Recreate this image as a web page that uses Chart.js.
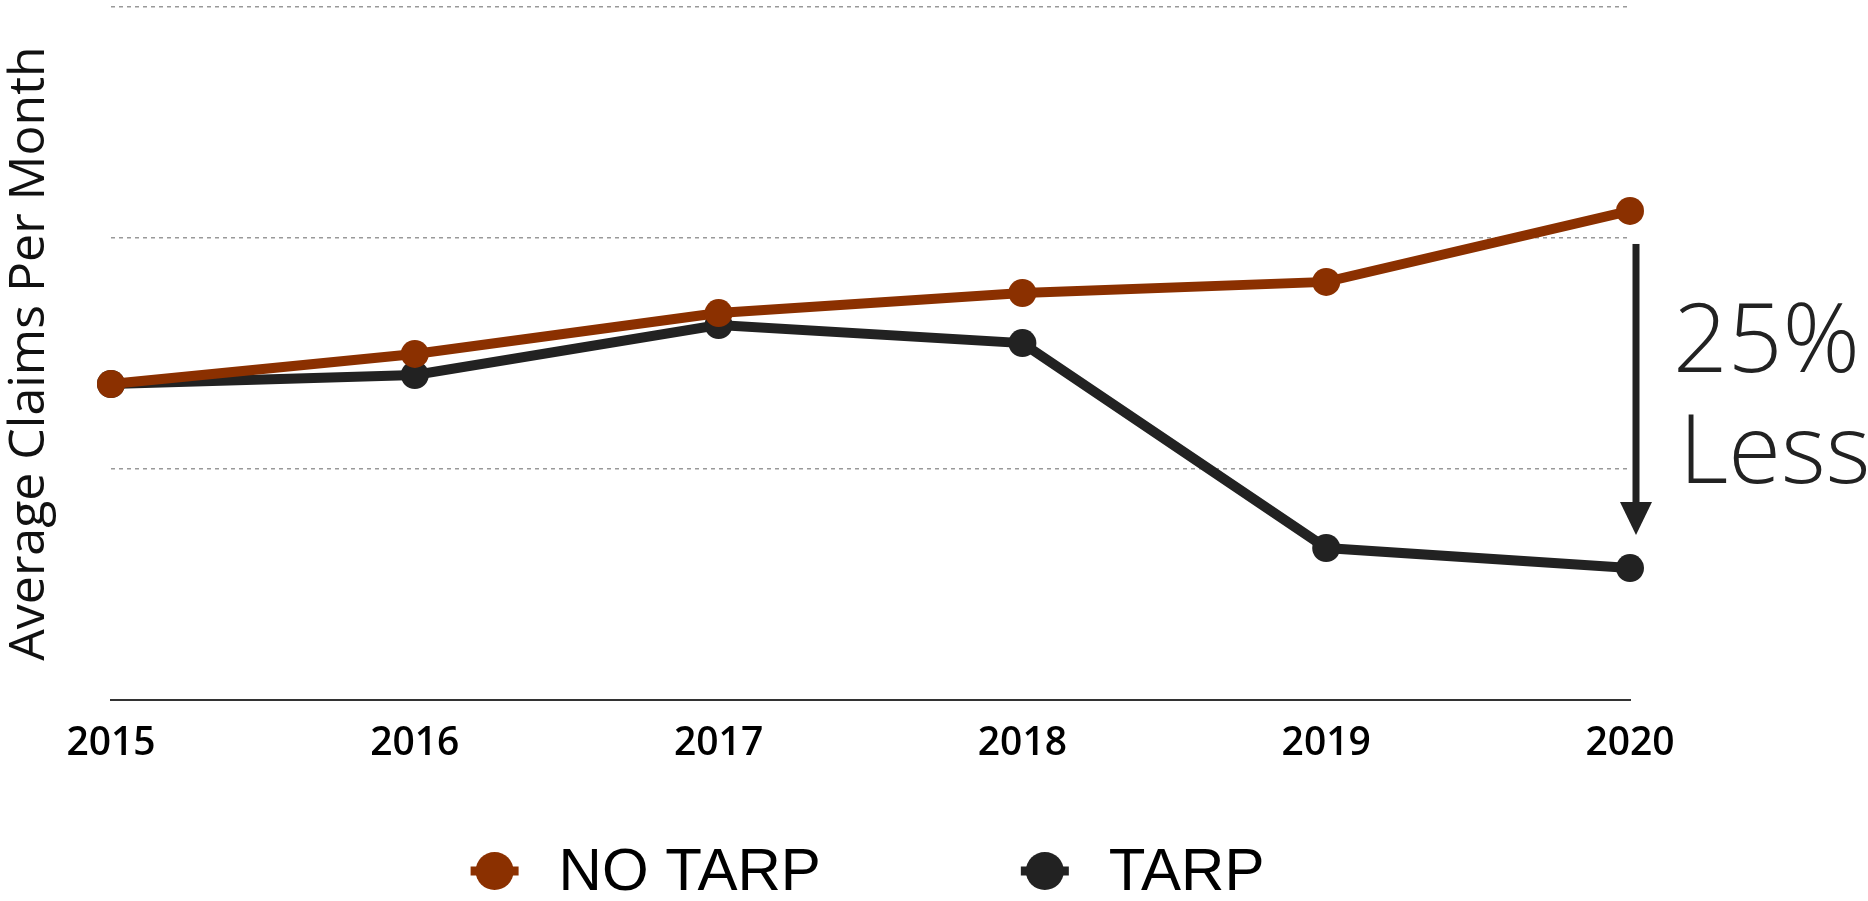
<!DOCTYPE html>
<html>
<head>
<meta charset="utf-8">
<script src="https://cdn.jsdelivr.net/npm/chart.js@4"></script>
<style>
  body { margin: 0; background: #fff; }
  #wrap { width: 1868px; height: 901px; position: relative; }
</style>
</head>
<body>
<div id="wrap"><canvas id="claimsChart"></canvas></div>
<script>
const years = ["2015", "2016", "2017", "2018", "2019", "2020"];
const noTarp = [1.368, 1.498, 1.675, 1.762, 1.810, 2.117];
const tarp = [1.368, 1.407, 1.623, 1.545, 0.658, 0.571];
const changeText = ["25%", "Less"];

const brown = "#8b3000";
const dark = "#222222";

// legend with a line + dot marker, drawn under the chart area
const lineLegend = {
  id: "lineLegend",
  afterDraw(chart) {
    const { ctx, chartArea } = chart;
    const items = chart.data.datasets;
    const box = 68, gap = 190;
    ctx.save();
    ctx.font = "60px 'Liberation Sans', Arial, sans-serif";
    const widths = items.map(ds => box + 30 + ctx.measureText(ds.label).width);
    const total = widths.reduce((a, b) => a + b, 0) + gap * (items.length - 1);
    let x = (chartArea.left + chartArea.right) / 2 - total / 2 - 8;
    const y = 871;
    items.forEach((ds, i) => {
      const cx = x + box / 2;
      ctx.fillStyle = ds.borderColor;
      ctx.fillRect(cx - 24, y - 4.5, 48, 9);
      ctx.beginPath();
      ctx.arc(cx, y, 19, 0, Math.PI * 2);
      ctx.fill();
      ctx.fillStyle = "#000";
      ctx.textBaseline = "middle";
      ctx.textAlign = "left";
      ctx.fillText(ds.label, x + box + 30, y + 2);
      x += widths[i] + gap;
    });
    ctx.restore();
  }
};

// arrow + "25% Less" next to the last year
const changeNote = {
  id: "changeNote",
  afterDatasetsDraw(chart) {
    const { ctx, scales } = chart;
    const last = years.length - 1;
    const x = scales.x.getPixelForValue(last) + 6;
    const yTop = scales.y.getPixelForValue(noTarp[last]) + 33;
    const yTip = scales.y.getPixelForValue(tarp[last]) - 33;
    ctx.save();
    ctx.fillStyle = dark;
    ctx.fillRect(x - 3.5, yTop, 7, yTip - yTop - 30);
    ctx.beginPath();
    ctx.moveTo(x - 16, yTip - 33);
    ctx.lineTo(x + 16, yTip - 33);
    ctx.lineTo(x, yTip);
    ctx.closePath();
    ctx.fill();

    ctx.font = "300 96px 'Open Sans', sans-serif";
    ctx.textAlign = "left";
    ctx.textBaseline = "alphabetic";
    const mid = (yTop + yTip) / 2;
    ctx.fillText(changeText[0], x + 37, mid - 18);
    ctx.fillText(changeText[1], x + 43, mid + 93);
    ctx.restore();
  }
};

new Chart(document.getElementById("claimsChart"), {
  type: "line",
  data: {
    labels: years,
    datasets: [
      {
        label: "NO TARP",
        data: noTarp,
        borderColor: brown,
        backgroundColor: brown,
        borderWidth: 10,
        pointRadius: 14,
        pointHoverRadius: 14,
        pointBorderWidth: 0,
        tension: 0,
      },
      {
        label: "TARP",
        data: tarp,
        borderColor: dark,
        backgroundColor: dark,
        borderWidth: 10,
        pointRadius: 14,
        pointHoverRadius: 14,
        pointBorderWidth: 0,
        tension: 0,
      }
    ]
  },
  options: {
    responsive: true,
    maintainAspectRatio: false,
    animation: false,
    layout: {
      autoPadding: false,
      padding: { top: 7, left: 0, right: 238, bottom: 134 }
    },
    plugins: {
      legend: { display: false },
      tooltip: { enabled: false },
    },
    scales: {
      x: {
        grid: { display: false, drawTicks: false },
        border: { display: true, color: "#333", width: 2 },
        ticks: {
          color: "#000",
          padding: 20,
          maxRotation: 0,
          autoSkip: false,
          font: { family: "'Open Sans', sans-serif", size: 39, weight: 600 },
        },
        afterFit: (scale) => { scale.height = 67; },
      },
      y: {
        min: 0,
        max: 3,
        ticks: { display: false, stepSize: 1 },
        grid: {
          drawTicks: false,
          lineWidth: 1.5,
          color: (c) => (c.tick && c.tick.value === 0 ? "rgba(0,0,0,0)" : "#999"),
        },
        border: { display: false, dash: [4, 4] },
        title: {
          display: true,
          text: "Average Claims Per Month",
          color: "#111",
          padding: 0,
          font: { family: "'Open Sans', sans-serif", size: 50 },
        },
        afterFit: (scale) => {
          scale.width = 111;
          scale.paddingTop = 0;
          scale.paddingBottom = 0;
        },
      },
    },
  },
  plugins: [lineLegend, changeNote],
});
</script>
</body>
</html>
